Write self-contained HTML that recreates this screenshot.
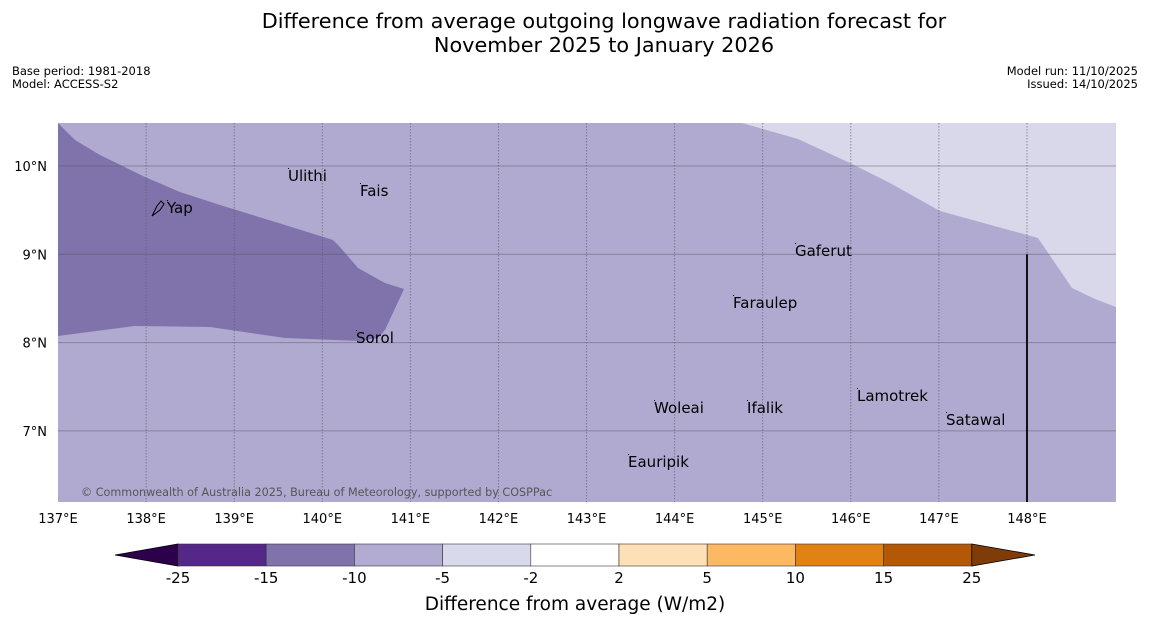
<!DOCTYPE html>
<html><head><meta charset="utf-8"><style>
body{margin:0;background:#fff;width:1150px;height:644px;overflow:hidden;font-family:"DejaVu Sans","Liberation Sans",sans-serif}
svg{display:block}
</style></head><body>
<svg id="c" width="1150" height="644" xmlns="http://www.w3.org/2000/svg" font-family="DejaVu Sans, Liberation Sans, sans-serif">
<text x="604" y="28" text-anchor="middle" font-size="20.8">Difference from average outgoing longwave radiation forecast for</text>
<text x="604" y="52" text-anchor="middle" font-size="20.8">November 2025 to January 2026</text>
<text x="12" y="75" font-size="11.5">Base period: 1981-2018</text>
<text x="12" y="88" font-size="11.5">Model: ACCESS-S2</text>
<text x="1138" y="75" font-size="11.5" text-anchor="end">Model run: 11/10/2025</text>
<text x="1138" y="88" font-size="11.5" text-anchor="end">Issued: 14/10/2025</text>
<g id="map"></g>
<g id="cb"></g>
<text x="575" y="610" text-anchor="middle" font-size="18.5">Difference from average (W/m2)</text>
</svg>
<script>
const lonTicks=[137,138,139,140,141,142,143,144,145,146,147,148];
const latTicks=[7,8,9,10];
const darkLon=[137,137.193,137.477,137.988,138.385,138.839,139.577,140.122,140.201,140.406,140.712,140.928,140.712,140.633,140.428,139.577,138.726,137.874,137];
const darkLat=[10.487,10.294,10.125,9.875,9.706,9.558,9.332,9.162,9.083,8.845,8.675,8.607,8.143,8.052,8.018,8.052,8.177,8.188,8.075];
const lightLon=[144.765,145.401,145.991,146.445,147.013,148.125,148.511,148.772,149.01,149.01];
const lightLat=[10.487,10.306,10.034,9.807,9.490,9.185,8.618,8.494,8.403,10.487];
const placeNames=["Ulithi","Fais","Yap","Gaferut","Faraulep","Sorol","Woleai","Ifalik","Lamotrek","Satawal","Eauripik"];
const placeLon=[139.611,140.428,138.237,145.366,144.663,140.383,143.766,144.822,146.070,147.081,143.471];
const placeLat=[9.887,9.717,9.524,9.037,8.449,8.052,7.259,7.259,7.395,7.123,6.648];
const cbLevels=["-25","-15","-10","-5","-2","2","5","10","15","25"];
const cbColors=["#542788","#8073ac","#b2abd2","#d8daeb","#ffffff","#fee0b6","#fdb863","#e08214","#b35806"];
const cbUnder="#2d004b", cbOver="#7f3b08";

const NS="http://www.w3.org/2000/svg";
const X0=58,X1=1116,Y0=123,Y1=502;
const xs=lon=>58+(lon-137)*88.09;
const ys=lat=>166+(10-lat)*88.3;
function mk(t,a,p){const e=document.createElementNS(NS,t);for(const k in a)e.setAttribute(k,a[k]);p.appendChild(e);return e;}
const map=document.getElementById('map');
const bg=mk('rect',{x:X0,y:Y0,width:X1-X0,height:Y1-Y0,fill:'#b0aad1'},map);


const lp=mk('polygon',{points:lightLon.map((v,i)=>xs(v)+','+ys(lightLat[i])).join(' '),fill:'#d8d8ea'},map);


const dp=mk('polygon',{points:darkLon.map((v,i)=>xs(v)+','+ys(darkLat[i])).join(' '),fill:'#8073ac'},map);


lonTicks.forEach(l=>{
  const x=xs(l);
  if(x>X0+1){const g=mk('line',{x1:x,x2:x,y1:Y0,y2:Y1,stroke:'#555',"stroke-width":0.8,"stroke-dasharray":"1.5,1.5",opacity:0.7},map);
  
  }
  const t=mk('text',{x:x,y:523,"text-anchor":"middle","font-size":13},map);t.textContent=l+'°E';
  
  
});
latTicks.forEach(l=>{
  const y=ys(l);
  const g=mk('line',{x1:X0,x2:X1,y1:y,y2:y,stroke:'#555',"stroke-width":1,opacity:0.45},map);
  
  
  const t=mk('text',{x:47,y:y+5,"text-anchor":"end","font-size":13},map);t.textContent=l+'°N';
  
  
});
const vl=mk('line',{x1:xs(148),x2:xs(148),y1:ys(9),y2:Y1,stroke:'#111',"stroke-width":2},map);


placeNames.forEach((n,i)=>{
  const x=xs(placeLon[i]),y=ys(placeLat[i]);
  mk('rect',{x:x,y:y-8,width:1,height:1,fill:'#000'},map);
  const t=mk('text',{x:x,y:y+5,"font-size":15},map);t.textContent=n;
  
  
});
mk('path',{d:"M152,216 L157,206 L161,201 L164,204 L160,210 Z",fill:"none",stroke:"#000","stroke-width":1},map);
const cp=mk('text',{x:81,y:496,"font-size":11.2,fill:'#555'},map);cp.textContent='© Commonwealth of Australia 2025, Bureau of Meteorology, supported by COSPPac';



const cb=document.getElementById('cb');
const CX0=178,CW=88.2,CY=544,CH=22;
const under=mk('polygon',{points:`115,${CY+CH/2} ${CX0},${CY} ${CX0},${CY+CH}`,fill:cbUnder,stroke:'#000',"stroke-width":0.8},cb);


cbColors.forEach((c,i)=>{
  const r=mk('rect',{x:CX0+i*CW,y:CY,width:CW,height:CH,fill:c,stroke:'#333',"stroke-width":0.6},cb);
  
  
});
const endX=CX0+cbColors.length*CW;
const over=mk('polygon',{points:`${endX},${CY} 1035,${CY+CH/2} ${endX},${CY+CH}`,fill:cbOver,stroke:'#000',"stroke-width":0.8},cb);


cbLevels.forEach((l,i)=>{
  const t=mk('text',{x:CX0+i*CW,y:583,"text-anchor":"middle","font-size":15},cb);t.textContent=l;
  
  
});
</script>
</body></html>
